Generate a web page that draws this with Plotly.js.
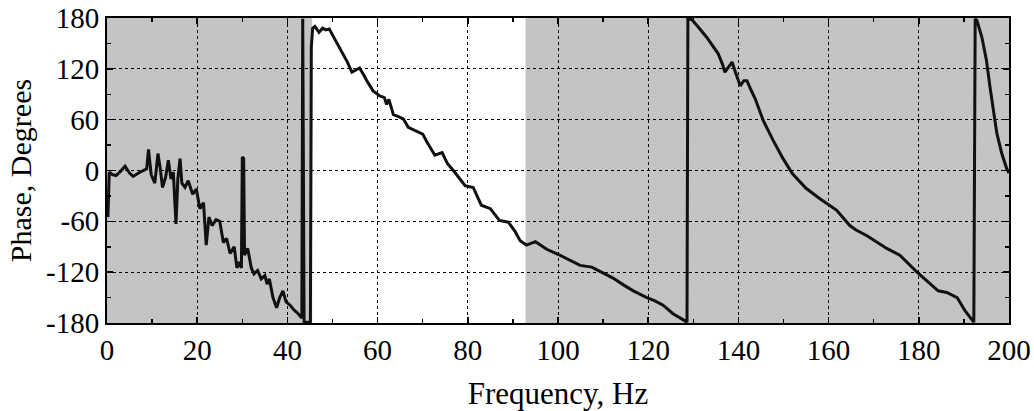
<!DOCTYPE html>
<html>
<head>
<meta charset="utf-8">
<script src="https://cdn.plot.ly/plotly-3.0.1.min.js"></script>
<style>html,body{margin:0;padding:0;background:#fff;}#chart{width:1034px;height:411px;}</style>
</head>
<body>
<div id="chart"></div>
<script>
// Frequency (Hz) and phase (degrees)
const frequency = [0.2, 0.5, 1.2, 2, 3, 4, 5, 5.8, 7, 8, 8.8, 9.2, 9.8, 10.6, 11.3, 11.8, 12.3, 13, 13.6, 14.2, 14.7, 15.3, 15.7, 16.2, 16.6, 17.3, 18, 19, 19.8, 20.6, 21.4, 22, 22.6, 23.3, 24.2, 25, 25.8, 26.5, 27.3, 28.2, 28.8, 29.3, 29.8, 30.0, 30.3, 30.5, 31.2, 32, 32.6, 33.4, 34.2, 35, 35.5, 36, 36.8, 37.6, 38.3, 39, 39.7, 40.6, 41.5, 42.2, 42.8, 43.2, 43.4, 43.7, 45.1, 45.3, 45.6, 46.1, 47, 47.8, 48.5, 49.3, 50.2, 51, 52.3, 53.3, 54.3, 55, 56, 57, 57.6, 59, 60.5, 61.5, 62, 62.5, 63.5, 64.5, 65.7, 66.8, 68, 69.4, 70, 71, 72.7, 74.3, 75.5, 76.8, 78, 79.4, 81.2, 82, 83, 85, 87, 89, 90.5, 91.6, 93, 95, 97.5, 100.4, 103, 104.9, 107.5, 110, 112.2, 114.5, 116.7, 119.7, 121.5, 123.3, 125.5, 127.7, 128.6, 128.8, 129.7, 131, 133, 135.5, 136.5, 137, 137.8, 138.6, 139.4, 140.4, 141.2, 141.9, 142.8, 143.7, 145.5, 147.7, 149.9, 152, 155, 158, 161.8, 164.7, 166, 168.5, 172.9, 175.8, 179.6, 182.5, 184.3, 186.2, 188.5, 190.2, 191.8, 192.2, 192.5, 192.9, 194, 195, 195.8, 196.5, 197.3, 198.4, 199.5, 200];
const phase = [-55, -2, -5, -6, -1, 5, -3, -7, -3, 0, 2, 25, -5, -15, 20, 3, -20, -8, 12, -10, -2, -63, -10, 14, -15, -20, -12, -28, -22, -45, -38, -88, -55, -65, -58, -60, -85, -80, -98, -90, -115, -108, -115, 16, 14, -100, -92, -115, -122, -118, -128, -124, -134, -128, -150, -162, -150, -142, -155, -159, -165, -168, -172, -174, 179, -179, -179, 145, 168, 170, 163, 168, 166, 167, 158, 150, 138, 128, 116, 118, 121, 112, 106, 94, 88, 86, 78, 84, 66, 64, 61, 51, 48, 45, 43, 33, 18, 21, 8, 0, -8, -18, -20, -30, -41, -45, -59, -61, -72, -83, -88, -84, -93, -100, -107, -112, -114, -121, -127, -135, -142, -150, -154, -159, -169, -176, -179, 179, 178, 170, 157, 138, 125, 116, 122, 128, 115, 100, 106, 106, 95, 85, 59, 35.5, 14, -4, -21, -33, -47, -65, -70, -77, -92, -100, -120, -133, -142, -144, -150, -165, -177, -179, 179, 177, 157, 130, 98, 71, 44, 20, 2, -3];

// Shaded frequency bands [start, end] in Hz
const shadedBands = [[0, 45.5], [92.8, 200]];

const xTickVals = [0, 20, 40, 60, 80, 100, 120, 140, 160, 180, 200];
const xTickText = ['0', '20', '40', '60', '80', '100', '120', '140', '160', '180', '200'];
const yTickVals = [-180, -120, -60, 0, 60, 120, 180];
const yTickText = ['-180', '-120', '-60', '0', '60', '120', '180'];

const fontFam = 'Liberation Serif';

const shapes = shadedBands.map(b => ({
  type: 'rect', xref: 'x', yref: 'paper', x0: b[0], x1: b[1], y0: 0, y1: 1,
  fillcolor: '#c4c4c4', line: {width: 0}, layer: 'below'
}));

const trace = {
  x: frequency, y: phase, type: 'scatter', mode: 'lines',
  line: {color: '#111111', width: 3}, hoverinfo: 'skip'
};

const layout = {
  width: 1034, height: 411,
  margin: {l: 107, r: 25, t: 18, b: 88},
  paper_bgcolor: '#fff', plot_bgcolor: '#fff',
  font: {family: fontFam, size: 29, color: '#000'},
  showlegend: false,
  shapes: shapes,
  xaxis: {
    range: [0, 200], tickmode: 'array', tickvals: xTickVals, ticktext: xTickText,
    tickfont: {family: fontFam, size: 29, color: '#000'},
    showline: true, linecolor: '#000', linewidth: 2, mirror: 'ticks',
    ticks: 'inside', ticklen: 6, tickwidth: 1.5, tickcolor: '#000',
    showgrid: true, gridcolor: '#000', gridwidth: 1, griddash: 'dot', zeroline: false,
    minor: {dtick: 10, tick0: 0, ticks: 'inside', ticklen: 4, tickcolor: '#000', showgrid: false},
    title: {text: 'Frequency, Hz', font: {family: fontFam, size: 31, color: '#000'}, standoff: 18}
  },
  yaxis: {
    range: [-180, 180], tickmode: 'array', tickvals: yTickVals, ticktext: yTickText,
    tickfont: {family: fontFam, size: 29, color: '#000'},
    showline: true, linecolor: '#000', linewidth: 2, mirror: 'ticks',
    ticks: 'inside', ticklen: 6, tickwidth: 1.5, tickcolor: '#000',
    showgrid: true, gridcolor: '#000', gridwidth: 1, griddash: 'dot', zeroline: false,
    minor: {dtick: 30, tick0: 0, ticks: 'inside', ticklen: 4, tickcolor: '#000', showgrid: false},
    title: {text: 'Phase, Degrees', font: {family: fontFam, size: 30, color: '#000'}, standoff: 6}
  }
};

Plotly.newPlot('chart', [trace], layout, {staticPlot: true, displayModeBar: false});
</script>
</body>
</html>
